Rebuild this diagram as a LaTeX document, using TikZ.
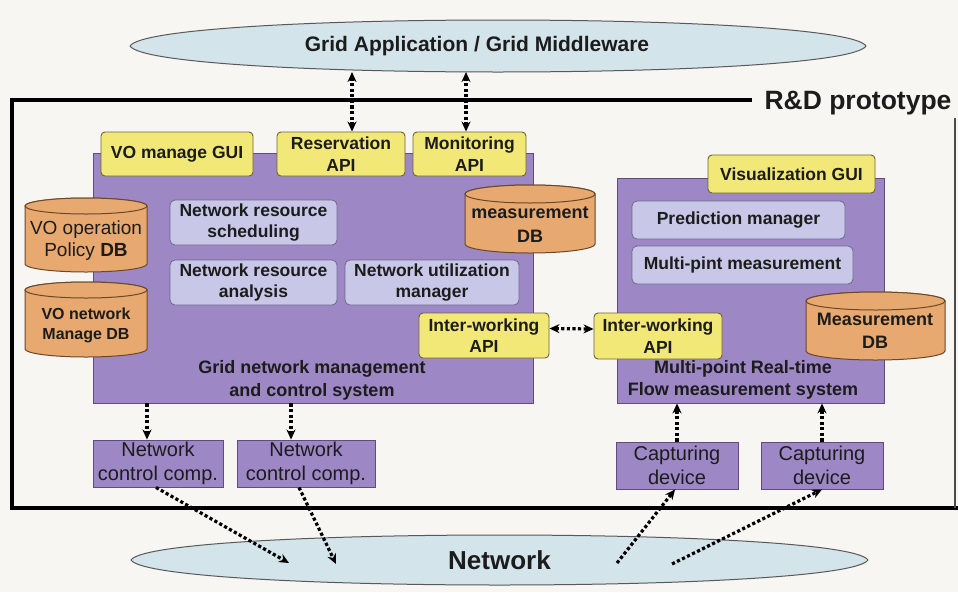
\documentclass[tikz,border=0pt]{standalone}
\usepackage{fontspec}
\setmainfont{Liberation Sans}
\usetikzlibrary{shapes.geometric,arrows.meta}

\definecolor{bgc}{HTML}{F7F6F2}
\definecolor{purp}{HTML}{9D87C5}
\definecolor{purpline}{HTML}{5E4C80}
\definecolor{yel}{HTML}{F2E878}
\definecolor{yelline}{HTML}{6E6432}
\definecolor{lav}{HTML}{C9C7E7}
\definecolor{lavline}{HTML}{6C6A8C}
\definecolor{org}{HTML}{E8A970}
\definecolor{orgline}{HTML}{6A4828}
\definecolor{sky}{HTML}{D3E4EA}
\definecolor{ink}{HTML}{1C1C1C}

\tikzset{
  every node/.style={text=ink, inner sep=0pt},
  panel/.style={draw=purpline, line width=0.8pt, fill=purp},
  apibox/.style={draw=yelline, line width=0.9pt, fill=yel, rounded corners=4pt,
    align=center, font=\fontsize{17.5}{21.5}\selectfont\bfseries},
  funcbox/.style={draw=lavline, line width=0.8pt, fill=lav, rounded corners=5pt,
    align=center, font=\fontsize{17.5}{21}\selectfont\bfseries},
  devbox/.style={draw=purpline, line width=0.9pt, fill=purp, align=center,
    font=\fontsize{20}{24}\selectfont},
  lens/.style={draw=black!65, line width=1pt, fill=sky},
  drum/.style={draw=orgline, line width=1pt, fill=org},
  frame/.style={line width=3.5pt, black},
  link/.style={line width=3.2pt, dash pattern=on 3.2pt off 2.4pt,
    -{Stealth[length=10pt,width=9pt]}},
  bilink/.style={line width=3.2pt, dash pattern=on 3.2pt off 2.4pt,
    {Stealth[length=10pt,width=9pt]}-{Stealth[length=10pt,width=9pt]}},
}

% box from (x1,y1) to (x2,y2), y measured downwards from the top edge
\newcommand\placebox[7]{%
  \node[#1, minimum width={#5-#3}, minimum height={#6-#4}] (#2)
    at ({(#3+#5)/2},{-(#4+#6)/2}) {#7};}

% database drum: centre x, top and bottom rim centres (downwards), radii
\newcommand\dbdrum[5]{%
  \filldraw[drum] ({#1-#4},{-#2}) -- ({#1-#4},{-#3})
    arc[start angle=180,end angle=360,x radius=#4,y radius=#5]
    -- ({#1+#4},{-#2})
    arc[start angle=0,end angle=180,x radius=#4,y radius=#5] -- cycle;
  \draw[drum] (#1,{-#2}) ellipse[x radius=#4,y radius=#5];}

% pointed oval: left tip x, right tip x, centre y (downwards), half height
\newcommand\lensshape[4]{%
  \filldraw[lens] (#1,{-#3})
    .. controls ({#1+22},{-#3+#4*4/3}) and ({#2-22},{-#3+#4*4/3}) .. (#2,{-#3})
    .. controls ({#2-22},{-#3-#4*4/3}) and ({#1+22},{-#3-#4*4/3}) .. cycle;}

\begin{document}
\begin{tikzpicture}[x=1pt,y=1pt]
\useasboundingbox (0,0) rectangle (958,-592);
\fill[bgc] (0,0) rectangle (958,-592);

% prototype frame
\draw[frame] (752,-100) -- (12,-100) -- (12,-508) -- (958,-508);
\draw[line width=1.5pt, black!70] (955,-118) -- (955,-508);
\node[font=\fontsize{26.5}{28}\selectfont\bfseries] (rdp) at (858,-103) {R\&D prototype};

% middleware and network ovals
\lensshape{130}{866}{46}{26}
\node[font=\fontsize{21}{24}\selectfont\bfseries] (gam) at (477,-46)
  {Grid Application / Grid Middleware};
\coordinate (gambot) at (498,-72);
\lensshape{131}{868}{560}{25}
\node[font=\fontsize{26}{28}\selectfont\bfseries] (net) at (499.5,-560) {Network};

% the two systems
\placebox{panel}{gnm}{93}{153}{533}{403}{}
\placebox{panel}{fms}{617}{178}{884}{403}{}
\node[align=center, font=\fontsize{18}{23}\selectfont\bfseries] (gnmtxt) at (312,-380)
  {Grid network management\\and control system};
\node[align=center, font=\fontsize{18}{22}\selectfont\bfseries] (fmstxt) at (743,-380)
  {Multi-point Real-time\\Flow measurement system};

% databases
\dbdrum{86}{206}{264}{61}{8}
\node[align=center, font=\fontsize{19}{22}\selectfont] (vop) at (86,-241)
  {VO operation\\Policy \textbf{DB}};
\dbdrum{86}{290}{349}{61}{8}
\node[align=center, font=\fontsize{16}{20}\selectfont\bfseries] (vonet) at (86,-325)
  {VO network\\Manage DB};
\dbdrum{530}{194}{244}{65}{9}
\node[align=center, font=\fontsize{18}{24}\selectfont\bfseries] (mdb) at (530,-225)
  {measurement\\DB};
\dbdrum{875.5}{301}{351}{69.5}{9}
\node[align=center, font=\fontsize{18}{23}\selectfont\bfseries] (mdbr) at (875,-331)
  {Measurement\\DB};

% interfaces
\placebox{apibox}{vog}{101}{132}{253}{176}{VO manage GUI}
\placebox{apibox}{res}{277}{132}{405}{176}{Reservation\\API}
\placebox{apibox}{mon}{413}{132}{526}{176}{Monitoring\\API}
\placebox{apibox}{vis}{708}{155}{875}{193}{Visualization GUI}
\placebox{apibox}{iwl}{419}{313}{549}{358}{Inter-working\\API}
\placebox{apibox}{iwr}{594}{313}{722}{359}{Inter-working\\API}

% functional blocks
\placebox{funcbox}{nrs}{170}{200}{337}{245}{Network resource\\scheduling}
\placebox{funcbox}{nra}{170}{260}{337}{305}{Network resource\\analysis}
\placebox{funcbox}{num}{345}{260}{519}{305}{Network utilization\\manager}
\placebox{funcbox}{pm}{632}{201}{845}{239}{Prediction manager}
\placebox{funcbox}{mpm}{632}{246}{853}{284}{Multi-pint measurement}

% devices
\placebox{devbox}{ncc1}{93}{440}{223}{487}{Network\\control comp.}
\placebox{devbox}{ncc2}{237}{440}{375}{487}{Network\\control comp.}
\placebox{devbox}{cap1}{616}{442}{738}{489}{Capturing\\device}
\placebox{devbox}{cap2}{761}{442}{883}{489}{Capturing\\device}

% links
\draw[bilink] ([xshift=11pt]res.north) -- ([xshift=11pt]res.north |- gambot);
\draw[bilink] ([xshift=-3.5pt]mon.north) -- ([xshift=-3.5pt]mon.north |- gambot);
\draw[bilink] ([yshift=7pt]iwl.east) -- ([yshift=7pt]iwr.west);
\draw[link] ([xshift=-11pt]ncc1.north |- gnm.south) -- ([xshift=-11pt]ncc1.north);
\draw[link] ([xshift=-15pt]ncc2.north |- gnm.south) -- ([xshift=-15pt]ncc2.north);
\draw[link] (cap1.north) -- (cap1.north |- fms.south);
\draw[link] (cap2.north) -- (cap2.north |- fms.south);

\coordinate (nin1) at (289,-563);
\coordinate (nin2) at (336,-564);
\coordinate (nout1) at (617,-563);
\coordinate (nout2) at (672,-564);
\draw[link] ([xshift=-2pt]ncc1.south) -- (nin1);
\draw[link] ([xshift=-7pt]ncc2.south) -- (nin2);
\draw[link] (nout1) -- ([xshift=-2pt]cap1.south);
\draw[link] (nout2) -- (cap2.south);
\end{tikzpicture}
\end{document}
